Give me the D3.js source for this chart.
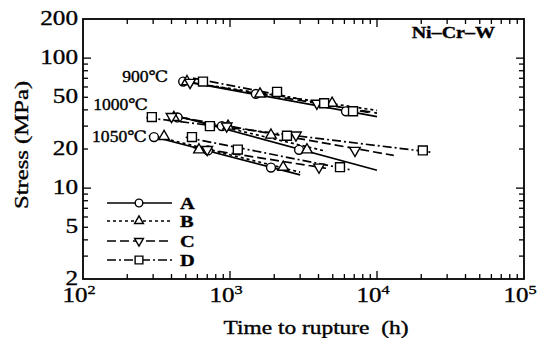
<!DOCTYPE html>
<html>
<head>
<meta charset="utf-8">
<script src="https://cdn.jsdelivr.net/npm/d3@7"></script>
<style>
  html, body { margin: 0; padding: 0; background: #fff; }
  svg { display: block; }
  text { font-family: "Liberation Serif", "DejaVu Serif", serif; fill: #000; stroke: #000; stroke-width: 0.35px; }
</style>
</head>
<body>
<svg id="chart" width="540" height="338"></svg>
<script>
// ---- data (time to rupture in hours, stress in MPa) ----
const seriesNames = ["A", "B", "C", "D"];
const temperatures = [900, 1000, 1050];
const temperatureLabels = ["900℃", "1000℃", "1050℃"];
const xTickLabels = ["2", "3", "4", "5"];          // exponents of 10
const yTickLabels = [2, 5, 10, 20, 50, 100, 200];

// [temperature, hours, MPa]
const pointsA = [[900, 480, 66], [900, 1500, 53], [900, 6150, 39],
                 [1000, 440, 35], [1000, 880, 30], [1000, 2950, 19.7],
                 [1050, 304, 24.7], [1050, 708, 19.5], [1050, 1900, 14.4]];
const pointsB = [[900, 510, 66], [900, 1600, 53], [900, 4950, 45],
                 [1000, 415, 35], [1000, 970, 30], [1000, 1900, 25.6], [1000, 3340, 19.7],
                 [1050, 356, 25], [1050, 615, 19.7], [1050, 2300, 14.5]];
const pointsC = [[900, 535, 65], [900, 3900, 45],
                 [1000, 400, 35.5], [1000, 950, 30], [1000, 2810, 25.6], [1000, 7080, 19.5],
                 [1050, 700, 19.8], [1050, 4030, 14.5]];
const pointsD = [[900, 655, 66], [900, 2090, 55], [900, 4370, 45], [900, 6870, 39],
                 [1000, 294, 35.2], [1000, 730, 30], [1000, 2440, 25.3], [1000, 20500, 19.5],
                 [1050, 551, 24.7], [1050, 1130, 19.8], [1050, 5600, 14.5]];

// fitted line spans: [temperature, from hours, to hours]
const spanA = [[900, 450, 10000], [1000, 400, 10000], [1050, 280, 3000]];
const spanB = [[900, 460, 10000], [1000, 380, 4500], [1050, 330, 3000]];
const spanC = [[900, 470, 10000], [1000, 380, 13000], [1050, 560, 4500]];
const spanD = [[900, 560, 9000], [1000, 270, 24000], [1050, 500, 6500]];

// label anchors in data coordinates [hours, MPa]
const temperatureLabelPos = [[380, 65.5], [277, 40], [272, 22.6]];

// ---- drawing ----
const svg = d3.select("#chart");
const x = d3.scaleLog().domain([100, 1e5]).range([83, 524]);
const y = d3.scaleLog().domain([2, 200]).range([279, 19]);

const series = [
  {name: "A", pts: pointsA, span: spanA, symbol: d3.symbolCircle, size: 62, lsize: 46, rot: 0, dash: null},
  {name: "B", pts: pointsB, span: spanB, symbol: d3.symbolTriangle, size: 48, lsize: 34, rot: 0, dash: "3,3"},
  {name: "C", pts: pointsC, span: spanC, symbol: d3.symbolTriangle, size: 48, lsize: 34, rot: 180, dash: "9,4"},
  {name: "D", pts: pointsD, span: spanD, symbol: d3.symbolSquare, size: 80, lsize: 60, rot: 0, dash: "9,3,2,3"}
];

function stext(g, px, py, str, o) {
  const t = g.append("text")
    .attr("transform", `translate(${px},${py}) rotate(${o.rot || 0}) scale(${o.sx || 1},1)`)
    .attr("text-anchor", o.anchor || "start")
    .attr("font-size", o.size)
    .attr("font-weight", o.weight || "normal")
    .text(str);
  return t;
}

// ticks (inward, mirrored on all sides)
const tickG = svg.append("g").attr("stroke", "#000").attr("stroke-width", 1.3);
const xMinor = [], xMajor = [1000, 10000];
[100, 1000, 10000].forEach(d => { for (let k = 2; k <= 9; k++) xMinor.push(k * d); });
const yMinor = [], yMajor = [10, 100];
[1, 10, 100].forEach(d => { for (let k = 2; k <= 9; k++) { const v = k * d; if (v > 2 && v < 200) yMinor.push(v); } });

[[xMinor, 5], [xMajor, 8]].forEach(([vals, len]) => {
  vals.forEach(v => {
    tickG.append("line").attr("x1", x(v)).attr("x2", x(v)).attr("y1", y(2)).attr("y2", y(2) - len);
    tickG.append("line").attr("x1", x(v)).attr("x2", x(v)).attr("y1", y(200)).attr("y2", y(200) + len);
  });
});
[[yMinor, 5], [yMajor, 8]].forEach(([vals, len]) => {
  vals.forEach(v => {
    tickG.append("line").attr("y1", y(v)).attr("y2", y(v)).attr("x1", x(100)).attr("x2", x(100) + len);
    tickG.append("line").attr("y1", y(v)).attr("y2", y(v)).attr("x1", x(1e5)).attr("x2", x(1e5) - len);
  });
});

// frame
svg.append("rect")
  .attr("x", x(100)).attr("y", y(200))
  .attr("width", x(1e5) - x(100)).attr("height", y(2) - y(200))
  .attr("fill", "none").attr("stroke", "#000").attr("stroke-width", 1.8);

// y tick labels
yTickLabels.forEach(v => {
  stext(svg, 78, y(v) + 6, String(v), {size: 21, anchor: "end", sx: 1.2});
});
// x tick labels 10^n
xTickLabels.forEach(e => {
  const v = Math.pow(10, +e);
  const g = svg.append("g").attr("transform", `translate(${x(v) - 4},302) scale(1.25,1)`);
  const t = g.append("text").attr("text-anchor", "middle").attr("font-size", 20);
  t.append("tspan").text("10");
  t.append("tspan").attr("font-size", 13).attr("dy", -8).text(e);
});

// axis titles
stext(svg, 316, 334, "Time to rupture\u00a0\u00a0(h)", {size: 18, anchor: "middle", sx: 1.3});
svg.append("text")
  .attr("transform", `translate(28,145) rotate(-90) scale(1.3,1)`)
  .attr("text-anchor", "middle").attr("font-size", 19)
  .text("Stress (MPa)");

// corner label
stext(svg, 495, 38, "Ni–Cr–W", {size: 16, anchor: "end", weight: "bold", sx: 1.25});

// temperature labels
temperatureLabels.forEach((lab, i) => {
  const [t, s] = temperatureLabelPos[i];
  stext(svg, x(t), y(s), lab, {size: 16, anchor: "end", sx: 1.1});
});

// fitted lines and markers
function fit(pts) {
  const xs = pts.map(p => Math.log10(p[1])), ys = pts.map(p => Math.log10(p[2]));
  const mx = d3.mean(xs), my = d3.mean(ys);
  let num = 0, den = 0;
  xs.forEach((xv, i) => { num += (xv - mx) * (ys[i] - my); den += (xv - mx) * (xv - mx); });
  const b = den ? num / den : 0;
  return lt => Math.pow(10, my + b * (Math.log10(lt) - mx));
}

const lineG = svg.append("g");
const markG = svg.append("g");
series.forEach(s => {
  temperatures.forEach(T => {
    const pts = s.pts.filter(p => p[0] === T);
    const sp = s.span.find(d => d[0] === T);
    if (!pts.length || !sp) return;
    const f = fit(pts);
    lineG.append("line")
      .attr("x1", x(sp[1])).attr("y1", y(f(sp[1])))
      .attr("x2", x(sp[2])).attr("y2", y(f(sp[2])))
      .attr("stroke", "#000").attr("stroke-width", 1.7)
      .attr("stroke-dasharray", s.dash);
  });
  const sym = d3.symbol().type(s.symbol).size(s.size);
  markG.selectAll(null).data(s.pts).join("path")
    .attr("d", sym)
    .attr("transform", d => `translate(${x(d[1])},${y(d[2])}) rotate(${s.rot})`)
    .attr("fill", "#fff").attr("stroke", "#000").attr("stroke-width", 1.4);
});

// legend
const legY = [203, 221, 241, 260];
series.forEach((s, i) => {
  const g = svg.append("g").attr("transform", `translate(0,${legY[i]})`);
  g.append("line").attr("x1", 107).attr("x2", 172).attr("y1", 0).attr("y2", 0)
    .attr("stroke", "#000").attr("stroke-width", 1.5).attr("stroke-dasharray", s.dash);
  g.append("path").attr("d", d3.symbol().type(s.symbol).size(s.lsize)())
    .attr("transform", `translate(139,0) rotate(${s.rot})`)
    .attr("fill", "#fff").attr("stroke", "#000").attr("stroke-width", 1.4);
  stext(g, 180, 6, s.name, {size: 17, weight: "bold", sx: 1.2});
});
</script>
</body>
</html>
